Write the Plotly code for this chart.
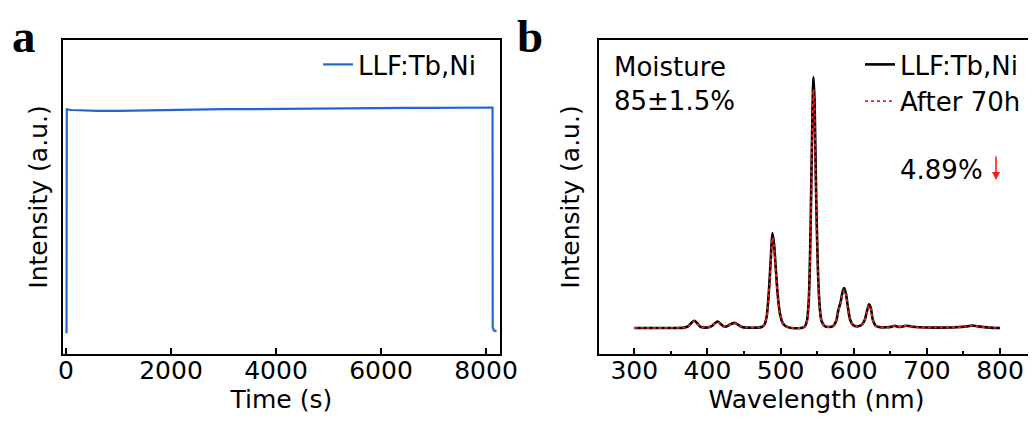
import plotly.graph_objects as go

# ---------------- data ----------------
# Panel a: intensity vs time
time_s = [10, 15, 100, 300, 600, 1000, 1500, 2000, 2500, 3000, 3500, 4000, 4500,
          5000, 5500, 6000, 6500, 7000, 7500, 8000, 8125, 8128, 8150, 8200]
time_int = [6.6, 77.9, 77.7, 77.5, 77.4, 77.4, 77.6, 77.8, 77.9, 78.0, 78.0, 78.1, 78.1,
            78.2, 78.3, 78.4, 78.4, 78.4, 78.5, 78.5, 78.5, 8.5, 7.5, 7.3]

# Panel b: emission spectra
wl = [300, 350, 368, 374, 378, 382, 386, 390, 396, 402, 407, 410, 414, 418, 422, 426,
      431, 437, 442, 447, 455, 468, 474, 478, 481, 484, 486.5, 488.8, 491, 493.5, 496,
      499, 503, 508, 515, 528, 533, 536, 538.5, 541, 543.5, 545, 546.5, 548.5, 551,
      553.5, 556, 560, 566, 572, 576, 579, 582, 585, 587, 589.5, 592, 595, 599, 605,
      611, 615, 618, 621, 623.5, 626, 630, 636, 645, 652, 656, 660, 666, 671, 675, 680,
      690, 710, 740, 755, 762, 770, 785, 800]
spec_initial = [8.3, 8.3, 8.4, 8.9, 9.9, 10.6, 9.8, 8.7, 8.4, 8.5, 9.1, 9.8, 10.3, 9.6, 8.8, 8.8,
                9.4, 9.9, 9.3, 8.6, 8.4, 8.4, 8.6, 9.4, 12.0, 20.0, 30.0, 38.5, 35.0, 27.0, 19.0,
                13.0, 9.8, 8.7, 8.3, 8.3, 8.7, 10.5, 17.0, 40.0, 76.0, 88.2, 80.0, 52.0, 27.0,
                15.0, 10.5, 8.9, 8.6, 8.9, 10.5, 14.0, 16.5, 20.0, 21.0, 19.0, 15.0, 11.0, 9.2, 8.8,
                9.3, 10.8, 13.5, 15.8, 14.5, 11.0, 9.0, 8.5, 8.5, 8.7, 9.0, 8.7, 8.7, 9.0, 8.9, 8.7,
                8.5, 8.4, 8.5, 8.8, 9.1, 8.8, 8.4, 8.3]
spec_70h = [8.3, 8.3, 8.4, 8.9, 9.8, 10.5, 9.7, 8.7, 8.4, 8.5, 9.1, 9.7, 10.2, 9.5, 8.8, 8.8,
            9.3, 9.8, 9.2, 8.6, 8.4, 8.4, 8.6, 9.4, 11.8, 19.4, 28.9, 37.0, 33.7, 26.1, 18.5,
            12.8, 9.7, 8.7, 8.3, 8.3, 8.7, 10.4, 16.6, 38.5, 72.7, 84.3, 76.5, 49.9, 26.1,
            14.7, 10.4, 8.9, 8.6, 8.9, 10.4, 13.7, 16.1, 19.4, 20.4, 18.5, 14.7, 10.9, 9.2, 8.8,
            9.3, 10.7, 13.3, 15.4, 14.2, 10.9, 9.0, 8.5, 8.5, 8.7, 9.0, 8.7, 8.7, 9.0, 8.9, 8.7,
            8.5, 8.4, 8.5, 8.8, 9.1, 8.8, 8.4, 8.3]

x_ticks_a = [0, 2000, 4000, 6000, 8000]
x_ticks_b = [300, 400, 500, 600, 700, 800]

# ---------------- figure ----------------
OFF = 8  # page body margin of the html file
W, H = 1036 - OFF, 423 - OFF
FONT = "DejaVu Sans"
TICK = 25
TITLE = 25
TEXT = 26
LEG = 26

def px_x(p):
    return (p - OFF) / W

def px_y(p):
    return 1 - (p - OFF) / H

fig = go.Figure()

fig.add_trace(go.Scatter(x=time_s, y=time_int, mode="lines", name="LLF:Tb,Ni",
                         line=dict(color="#2166d6", width=2.2),
                         xaxis="x", yaxis="y", legend="legend"))
fig.add_trace(go.Scatter(x=wl, y=spec_initial, mode="lines", name="LLF:Tb,Ni",
                         line=dict(color="black", width=2.6, shape="spline", smoothing=0.8),
                         xaxis="x2", yaxis="y2", legend="legend2"))
fig.add_trace(go.Scatter(x=wl, y=spec_70h, mode="lines", name="After 70h",
                         line=dict(color="#ff1a1a", width=1.8, dash="dot", shape="spline", smoothing=0.8),
                         xaxis="x2", yaxis="y2", legend="legend2"))

ydom = [px_y(354), px_y(40)]
axis_common = dict(showline=True, linecolor="black", linewidth=2, mirror=True,
                   showgrid=False, zeroline=False, automargin=False)

fig.update_layout(
    width=W, height=H,
    margin=dict(l=0, r=0, t=0, b=0),
    paper_bgcolor="white", plot_bgcolor="white",
    font=dict(family=FONT, color="black"),
    xaxis=dict(domain=[px_x(62.7), px_x(500)], range=[-63, 8267],
               tickvals=x_ticks_a, ticks="inside", ticklen=6, tickwidth=1.5, tickcolor="black",
               tickfont=dict(size=TICK, family=FONT), ticklabelstandoff=-7,
               title=dict(text="Time (s)", font=dict(size=TITLE, family=FONT), standoff=0),
               anchor="y", **axis_common),
    yaxis=dict(domain=ydom, range=[0, 100], showticklabels=False, ticks="",
               title=dict(text="Intensity (a.u.)", font=dict(size=TITLE, family=FONT), standoff=6),
               anchor="x", **axis_common),
    xaxis2=dict(domain=[px_x(599), px_x(1034)], range=[251.7, 846.5],
                tickvals=x_ticks_b, ticks="inside", ticklen=6, tickwidth=1.5, tickcolor="black",
                minor=dict(dtick=50, tick0=300, ticks="inside", ticklen=3, tickwidth=1.5, tickcolor="black"),
                tickfont=dict(size=TICK, family=FONT), ticklabelstandoff=-7,
                title=dict(text="Wavelength (nm)", font=dict(size=TITLE, family=FONT), standoff=0),
                anchor="y2", **axis_common),
    yaxis2=dict(domain=ydom, range=[0, 100], showticklabels=False, ticks="",
                title=dict(text="Intensity (a.u.)", font=dict(size=TITLE, family=FONT), standoff=10),
                anchor="x2", **axis_common),
    legend=dict(x=px_x(318), y=px_y(41), xanchor="left", yanchor="top",
                bgcolor="rgba(0,0,0,0)", font=dict(size=LEG, family=FONT),
                itemwidth=30, tracegroupgap=0),
    legend2=dict(x=px_x(860), y=px_y(41), xanchor="left", yanchor="top",
                 bgcolor="rgba(0,0,0,0)", font=dict(size=LEG, family=FONT),
                 itemwidth=30, tracegroupgap=0),
    showlegend=True,
)

ann = [
    dict(text="<b>a</b>", xref="paper", yref="paper", x=px_x(11), y=px_y(9),
         xanchor="left", yanchor="top", showarrow=False, borderpad=0,
         font=dict(size=47, family="Liberation Serif", color="black")),
    dict(text="<b>b</b>", xref="paper", yref="paper", x=px_x(516), y=px_y(9),
         xanchor="left", yanchor="top", showarrow=False, borderpad=0,
         font=dict(size=47, family="Liberation Serif", color="black")),
    dict(text="Moisture", xref="paper", yref="paper", x=px_x(612), y=px_y(67.5),
         xanchor="left", yanchor="middle", showarrow=False, font=dict(size=TEXT, family=FONT)),
    dict(text="85±1.5%", xref="paper", yref="paper", x=px_x(612), y=px_y(101),
         xanchor="left", yanchor="middle", showarrow=False, font=dict(size=TEXT, family=FONT)),
    dict(text="4.89%", xref="paper", yref="paper", x=px_x(985), y=px_y(170),
         xanchor="right", yanchor="middle", showarrow=False, font=dict(size=TEXT, family=FONT)),
    dict(text="", xref="x2", yref="y2", x=794.5, y=55.4, ax=0, ay=-25,
         showarrow=True, arrowhead=2, arrowsize=1, arrowwidth=1.6, arrowcolor="#ff1a1a"),
]
fig.update_layout(annotations=ann)

fig.write_html("out.html")
